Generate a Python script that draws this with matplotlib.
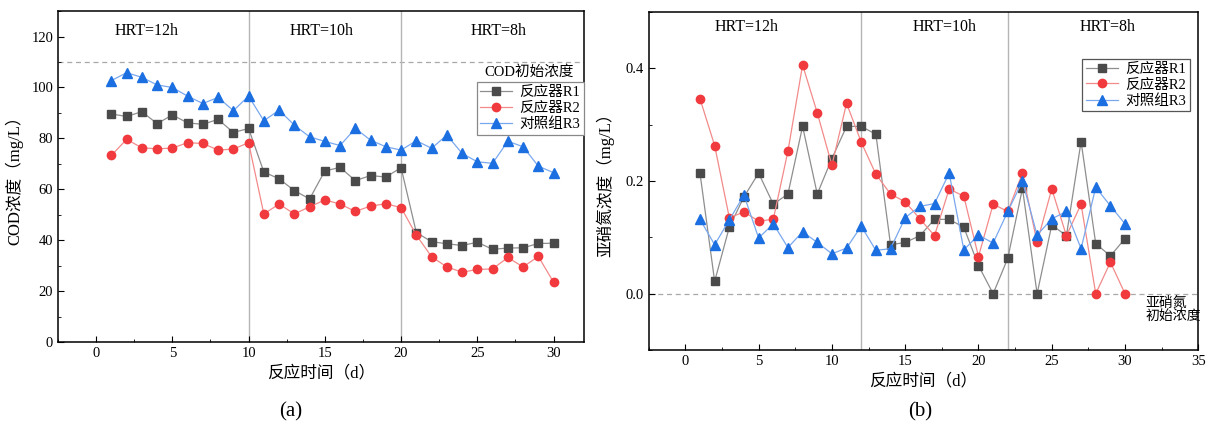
import matplotlib.pyplot as plt
from matplotlib.ticker import MultipleLocator

plt.rcParams["font.family"] = ["Liberation Serif", "Noto Sans CJK SC"]

# Data
days = list(range(1, 31))

cod_r1 = [89.6, 88.6, 90.5, 85.8, 89.2, 86.1, 85.5, 87.5, 82.3, 83.9,
          66.8, 64.1, 59.5, 56.2, 67.2, 68.6, 63.4, 65.4, 64.8, 68.5,
          43.0, 39.4, 38.6, 37.9, 39.2, 36.4, 36.9, 37.0, 38.7, 38.8]
cod_r2 = [73.3, 79.6, 76.3, 75.9, 76.2, 78.3, 78.0, 75.4, 75.8, 78.3,
          50.3, 54.2, 50.3, 53.1, 55.8, 54.2, 51.3, 53.4, 54.3, 52.8,
          42.0, 33.5, 29.5, 27.4, 28.5, 28.7, 33.2, 29.5, 33.6, 23.5]
cod_r3 = [102.7, 105.8, 104.0, 101.0, 100.0, 96.6, 93.7, 96.1, 90.9, 96.6,
          86.9, 91.1, 85.2, 80.6, 78.8, 77.2, 83.9, 79.3, 76.7, 75.4,
          79.1, 76.1, 81.3, 74.1, 70.8, 70.2, 78.9, 76.7, 69.1, 66.5]

no2_r1 = [0.214, 0.022, 0.118, 0.172, 0.214, 0.159, 0.177, 0.297, 0.177, 0.240,
          0.297, 0.297, 0.283, 0.087, 0.091, 0.103, 0.132, 0.132, 0.118, 0.050,
          0.000, 0.063, 0.187, 0.000, 0.122, 0.103, 0.270, 0.089, 0.067, 0.098]
no2_r2 = [0.346, 0.263, 0.135, 0.145, 0.129, 0.132, 0.253, 0.406, 0.321, 0.228,
          0.338, 0.269, 0.212, 0.177, 0.163, 0.133, 0.103, 0.186, 0.173, 0.066,
          0.159, 0.146, 0.214, 0.091, 0.186, 0.103, 0.159, 0.000, 0.056, 0.000]
no2_r3 = [0.132, 0.087, 0.131, 0.175, 0.099, 0.124, 0.082, 0.110, 0.091, 0.071,
          0.081, 0.120, 0.077, 0.080, 0.135, 0.155, 0.160, 0.214, 0.078, 0.104,
          0.090, 0.146, 0.200, 0.104, 0.133, 0.146, 0.080, 0.189, 0.156, 0.124]

labels = ["反应器R1", "反应器R2", "对照组R3"]
hrt_labels = ["HRT=12h", "HRT=10h", "HRT=8h"]

# styles
markers = ["s", "o", "^"]
marker_colors = ["#4a4a4a", "#f03a3d", "#1b6fe0"]
line_colors = ["#8e8e8e", "#f38a8a", "#7aa8ee"]

fig = plt.figure(figsize=(12.08, 4.28), dpi=100)
ax1 = fig.add_axes([0.048, 0.201, 0.4355, 0.773])
ax2 = fig.add_axes([0.537, 0.182, 0.455, 0.790])


def draw_series(ax, series):
    for y, lab, m, mc, lc in zip(series, labels, markers, marker_colors, line_colors):
        ax.plot(days, y, color=lc, lw=0.9, marker=m, markersize=6 if m != "^" else 6.5,
                markerfacecolor=mc, markeredgecolor=mc, label=lab, zorder=3)


def style_axes(ax):
    ax.tick_params(which="both", direction="in", labelsize=10.5)
    ax.tick_params(which="major", length=4)
    ax.tick_params(which="minor", length=2.5)
    for sp in ax.spines.values():
        sp.set_linewidth(1.1)
    ax.set_xlabel("反应时间（d）", fontsize=12, labelpad=4)


def add_legend(ax, anchor, edge):
    leg = ax.legend(loc="upper right", bbox_to_anchor=anchor, borderaxespad=0,
                    fancybox=False, edgecolor=edge, fontsize=10.5,
                    handlelength=2.2, handletextpad=0.5, labelspacing=0.17,
                    borderpad=0.25, framealpha=1)
    leg.get_frame().set_linewidth(0.9)
    return leg


# ---- (a) COD ----
draw_series(ax1, [cod_r1, cod_r2, cod_r3])
ax1.axhline(110, color="#a8a8a8", ls=(0, (4, 3)), lw=0.9, zorder=1)
for xv in (10, 20):
    ax1.axvline(xv, color="#b5b5b5", lw=1, zorder=1)
for xt, t in zip([3.3, 14.8, 26.4], hrt_labels):
    ax1.text(xt, 122, t, ha="center", va="center", fontsize=11.5)
ax1.text(28.4, 106, "COD初始浓度", ha="center", va="center", fontsize=10.5)
ax1.set_xlim(-2.5, 32)
ax1.set_ylim(0, 130)
ax1.xaxis.set_major_locator(MultipleLocator(5))
ax1.xaxis.set_minor_locator(MultipleLocator(2.5))
ax1.yaxis.set_major_locator(MultipleLocator(20))
ax1.yaxis.set_minor_locator(MultipleLocator(10))
ax1.set_ylabel("COD浓度（mg/L）", fontsize=12, labelpad=6)
style_axes(ax1)
add_legend(ax1, (1.0, 0.785), "#888888")

# ---- (b) nitrite ----
draw_series(ax2, [no2_r1, no2_r2, no2_r3])
ax2.axhline(0.0, color="#a8a8a8", ls=(0, (4, 3)), lw=0.9, zorder=1)
for xv in (12, 22):
    ax2.axvline(xv, color="#b5b5b5", lw=1, zorder=1)
for xt, t in zip([4.2, 17.7, 28.8], hrt_labels):
    ax2.text(xt, 0.473, t, ha="center", va="center", fontsize=11.5)
ax2.text(31.4, -0.006, "亚硝氮\n初始浓度", ha="left", va="top", fontsize=10,
         linespacing=1.1)
ax2.set_xlim(-2.5, 35)
ax2.set_ylim(-0.1, 0.5)
ax2.xaxis.set_major_locator(MultipleLocator(5))
ax2.xaxis.set_minor_locator(MultipleLocator(2.5))
ax2.yaxis.set_major_locator(MultipleLocator(0.2))
ax2.yaxis.set_minor_locator(MultipleLocator(0.1))
ax2.yaxis.set_major_formatter(lambda v, p: f"{v:.1f}")
ax2.set_ylabel("亚硝氮浓度（mg/L）", fontsize=12, labelpad=8)
style_axes(ax2)
add_legend(ax2, (0.984, 0.861), "#555555")

fig.text(0.2405, 0.037, "(a)", ha="center", va="center", fontsize=15)
fig.text(0.7615, 0.037, "(b)", ha="center", va="center", fontsize=15)

plt.savefig("out.png", dpi=100)
